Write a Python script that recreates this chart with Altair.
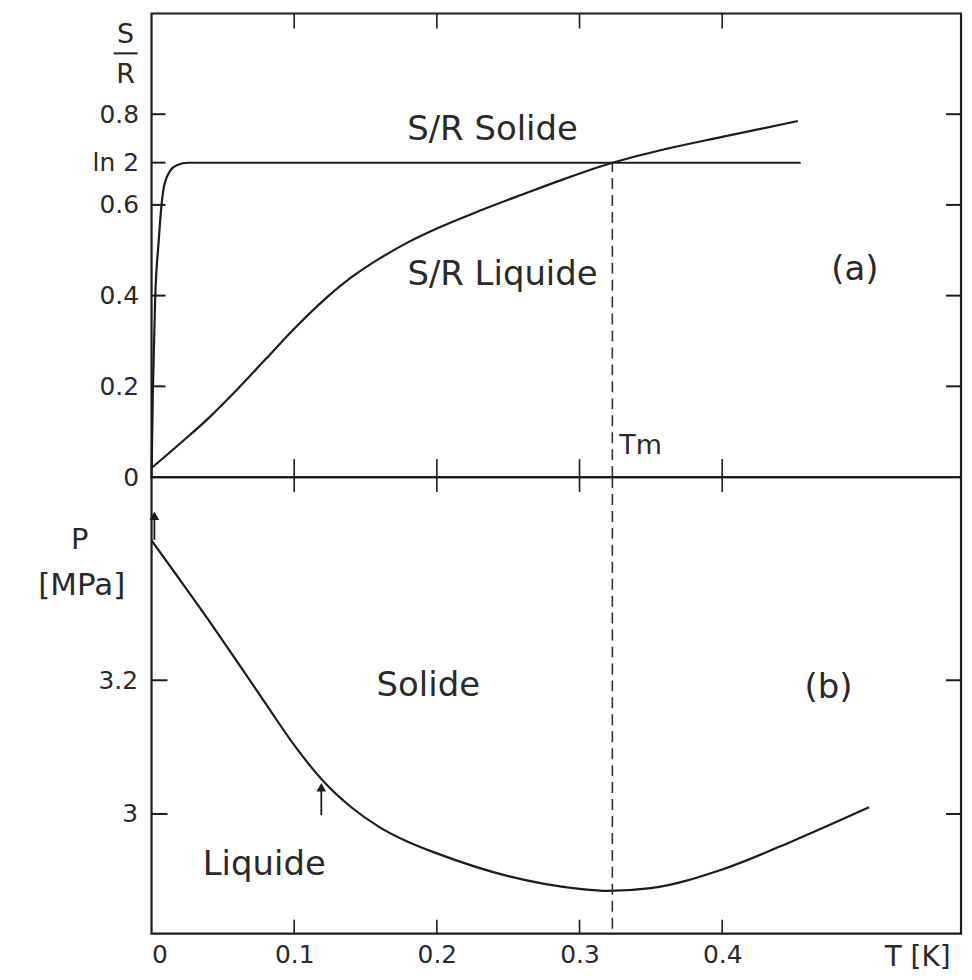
import math
import altair as alt
import pandas as pd

# ---------------- data ----------------
# (a) entropy of liquid and solid 3He, S/R vs T [K]
T_liq = [0.0, 0.02, 0.04, 0.06, 0.08, 0.10, 0.12, 0.14, 0.16, 0.18, 0.20, 0.23, 0.26, 0.29, 0.323,
         0.36, 0.40, 0.453]
S_liq = [0.020, 0.074, 0.130, 0.193, 0.260, 0.327, 0.388, 0.440, 0.482, 0.518, 0.548, 0.587, 0.623,
         0.658, 0.693, 0.723, 0.750, 0.785]

T_sol = [0.0, 0.001, 0.0025, 0.005, 0.007, 0.009, 0.013, 0.018, 0.026, 0.455]
S_sol = [0.0, 0.20, 0.39, 0.52, 0.60, 0.645, 0.675, 0.688, 0.693, 0.693]

# (b) melting curve P [MPa] vs T [K]
T_melt = [0.0, 0.02, 0.04, 0.06, 0.08, 0.10, 0.12, 0.14, 0.16, 0.18, 0.20, 0.25, 0.30, 0.32,
          0.35, 0.40, 0.45, 0.503]
P_melt = [3.409, 3.350, 3.290, 3.228, 3.165, 3.103, 3.050, 3.010, 2.980, 2.958, 2.941, 2.907, 2.888,
          2.885, 2.889, 2.917, 2.960, 3.010]

T_m = 0.323
LN2 = math.log(2)

x_ticks = [0.0, 0.1, 0.2, 0.3, 0.4]
s_ticks = [0.0, 0.2, 0.4, 0.6, LN2, 0.8]
s_right_ticks = [0.2, 0.4, 0.6, 0.8]
p_ticks = [3.0, 3.2]

# arrows on the melting curve: (T, stem bottom, head)
arrow_T = [0.002, 0.119]
arrow_lo = [3.410, 2.998]
arrow_hi = [3.446, 3.040]

# annotations
top_labels = ["S/R Solide", "S/R Liquide", "(a)"]
top_label_T = [0.239, 0.246, 0.493]
top_label_S = [0.765, 0.446, 0.457]
bot_labels = ["Solide", "Liquide", "(b)"]
bot_label_T = [0.194, 0.079, 0.4745]
bot_label_P = [3.191, 2.924, 3.188]

# ---------------- layout ----------------
W = 812
H_TOP = 465
H_BOT = 458
X_DOM = [0, 0.5674]
S_DOM = [0, 1.022]
P_DOM = [2.821, 3.504]

INK = "#1c1c1c"
TXT = "#2a2a2a"
FONT = "DejaVu Sans"

xs = alt.Scale(domain=X_DOM, nice=False, zero=False)
ss = alt.Scale(domain=S_DOM, nice=False, zero=False)
ps = alt.Scale(domain=P_DOM, nice=False, zero=False)


def X0(f):
    return alt.X(f, scale=xs, axis=None)


def X(f):
    return alt.X(f, scale=xs)


def YS(f):
    return alt.Y(f, scale=ss)


def YP(f):
    return alt.Y(f, scale=ps)


one = pd.DataFrame({"k": [0]})

# ---------------- panel (a) ----------------
liq = pd.DataFrame({"T": T_liq, "S": S_liq})
sol = pd.DataFrame({"T": T_sol, "S": S_sol})

liq_line = alt.Chart(liq).mark_line(color=INK, strokeWidth=2.2, interpolate="monotone").encode(
    x=X0("T:Q"),
    y=alt.Y("S:Q", scale=ss, axis=alt.Axis(
        values=s_ticks, domain=False, ticks=False, tickSize=0, labelPadding=13,
        labelFont=FONT, labelFontSize=25, labelColor=TXT, labelOverlap=False,
        labelBound=False, grid=False, title=None,
        labelExpr="datum.value == 0 ? '0' : (abs(datum.value - 0.6931) < 0.001 ? 'ln 2' : format(datum.value, '.1f'))")),
)
sol_line = alt.Chart(sol).mark_line(color=INK, strokeWidth=2.2, interpolate="monotone").encode(
    x=X0("T:Q"), y=YS("S:Q")
)
dash_top = alt.Chart(pd.DataFrame({"T": [T_m], "a": [0.0], "b": [LN2]})).mark_rule(
    color="#333", strokeWidth=1.6, strokeDash=[11, 6]
).encode(x=X0("T:Q"), y=YS("a:Q"), y2="b:Q")

sl_df = pd.DataFrame({"v": s_ticks})
sr_df = pd.DataFrame({"v": s_right_ticks})
xt_df = pd.DataFrame({"v": x_ticks})
xt_in = xt_df[xt_df.v > 0]

top_ticks = [
    alt.Chart(sl_df).mark_rule(color=INK, strokeWidth=2).encode(
        y=YS("v:Q"), x=alt.value(0), x2=alt.value(14)),
    alt.Chart(sr_df).mark_rule(color=INK, strokeWidth=2).encode(
        y=YS("v:Q"), x=alt.value(W - 15), x2=alt.value(W)),
    alt.Chart(xt_in).mark_rule(color=INK, strokeWidth=1.6).encode(
        x=X0("v:Q"), y=alt.value(0), y2=alt.value(15)),
    alt.Chart(xt_in).mark_rule(color=INK, strokeWidth=1.6).encode(
        x=X0("v:Q"), y=alt.value(H_TOP - 18), y2=alt.value(H_TOP)),
]

top_txt = alt.Chart(pd.DataFrame({"t": top_labels, "T": top_label_T, "S": top_label_S})).mark_text(
    font=FONT, fontSize=34, color=TXT, baseline="middle", align="center"
).encode(x=X0("T:Q"), y=YS("S:Q"), text="t:N")

tm_txt = alt.Chart(pd.DataFrame({"t": ["Tm"], "T": [T_m], "S": [0.068]})).mark_text(
    font=FONT, fontSize=27, color=TXT, baseline="middle", align="left", dx=7
).encode(x=X0("T:Q"), y=YS("S:Q"), text="t:N")

# y-axis title  S / R  drawn as a fraction
s_title = alt.Chart(one).mark_text(text="S", font=FONT, fontSize=27, color=TXT, baseline="middle").encode(
    x=alt.value(-26), y=alt.value(22))
r_title = alt.Chart(one).mark_text(text="R", font=FONT, fontSize=27, color=TXT, baseline="middle").encode(
    x=alt.value(-26), y=alt.value(62))
bar_title = alt.Chart(one).mark_rule(color=INK, strokeWidth=2).encode(
    x=alt.value(-38), x2=alt.value(-14), y=alt.value(40))
anchor = alt.Chart(one).mark_rule(strokeOpacity=0, strokeWidth=0.1).encode(
    x=alt.value(-142), x2=alt.value(-141), y=alt.value(-2), y2=alt.value(-1))

top = alt.layer(
    anchor, liq_line, sol_line, dash_top, *top_ticks, top_txt, tm_txt, s_title, r_title, bar_title
).properties(width=W, height=H_TOP)

# ---------------- panel (b) ----------------
melt = pd.DataFrame({"T": T_melt, "P": P_melt})
melt_line = alt.Chart(melt).mark_line(color=INK, strokeWidth=2.2, interpolate="monotone").encode(
    x=alt.X("T:Q", scale=xs, axis=alt.Axis(
        values=x_ticks, domain=False, ticks=False, tickSize=0, labelPadding=9,
        labelFont=FONT, labelFontSize=25, labelColor=TXT, labelOverlap=False,
        labelBound=False, grid=False, title=None, format=".1~f")),
    y=alt.Y("P:Q", scale=ps, axis=alt.Axis(
        values=p_ticks, domain=False, ticks=False, tickSize=0, labelPadding=14,
        labelFont=FONT, labelFontSize=25, labelColor=TXT, labelOverlap=False,
        labelBound=False, grid=False, title=None, format=".1~f")),
)
dash_bot = alt.Chart(pd.DataFrame({"T": [T_m]})).mark_rule(
    color="#333", strokeWidth=1.6, strokeDash=[11, 6]
).encode(x=X("T:Q"), y=alt.value(0), y2=alt.value(H_BOT))

pt_df = pd.DataFrame({"v": p_ticks})
bot_ticks = [
    alt.Chart(pt_df).mark_rule(color=INK, strokeWidth=2).encode(
        y=YP("v:Q"), x=alt.value(0), x2=alt.value(16)),
    alt.Chart(pt_df).mark_rule(color=INK, strokeWidth=2).encode(
        y=YP("v:Q"), x=alt.value(W - 15), x2=alt.value(W)),
    alt.Chart(xt_in).mark_rule(color=INK, strokeWidth=1.6).encode(
        x=X("v:Q"), y=alt.value(0), y2=alt.value(15)),
    alt.Chart(xt_in).mark_rule(color=INK, strokeWidth=1.6).encode(
        x=X("v:Q"), y=alt.value(H_BOT - 14), y2=alt.value(H_BOT)),
]

arr = pd.DataFrame({"T": arrow_T, "lo": arrow_lo, "hi": arrow_hi})
arrow_stem = alt.Chart(arr).mark_rule(color=INK, strokeWidth=1.8).encode(
    x=X("T:Q"), y=YP("lo:Q"), y2="hi:Q")
arrow_head = alt.Chart(arr).mark_point(shape="triangle-up", filled=True, color=INK, size=95, opacity=1).encode(
    x=X("T:Q"), y=YP("hi:Q"))

bot_txt = alt.Chart(pd.DataFrame({"t": bot_labels, "T": bot_label_T, "P": bot_label_P})).mark_text(
    font=FONT, fontSize=34, color=TXT, baseline="middle", align="center"
).encode(x=X("T:Q"), y=YP("P:Q"), text="t:N")

tk_txt = alt.Chart(pd.DataFrame({"t": ["T [K]"], "T": [0.537]})).mark_text(
    font=FONT, fontSize=28, color=TXT, baseline="top", align="center"
).encode(x=X("T:Q"), y=alt.value(H_BOT + 10), text="t:N")

p_title = alt.Chart(one).mark_text(text="P", font=FONT, fontSize=29, color=TXT, baseline="middle").encode(
    x=alt.value(-72), y=alt.value(63))
mpa_title = alt.Chart(one).mark_text(text="[MPa]", font=FONT, fontSize=31, color=TXT, baseline="middle").encode(
    x=alt.value(-70), y=alt.value(109))

bottom = alt.layer(
    melt_line, dash_bot, *bot_ticks, arrow_stem, arrow_head, bot_txt, tk_txt, p_title, mpa_title
).properties(width=W, height=H_BOT)

chart = alt.vconcat(top, bottom, spacing=0, bounds="flush").properties(
    padding=0, background="white"
).configure_view(stroke=INK, strokeWidth=2.2).configure_concat(spacing=0)

chart.save("out.html", embed_options={"renderer": "svg", "actions": False})
